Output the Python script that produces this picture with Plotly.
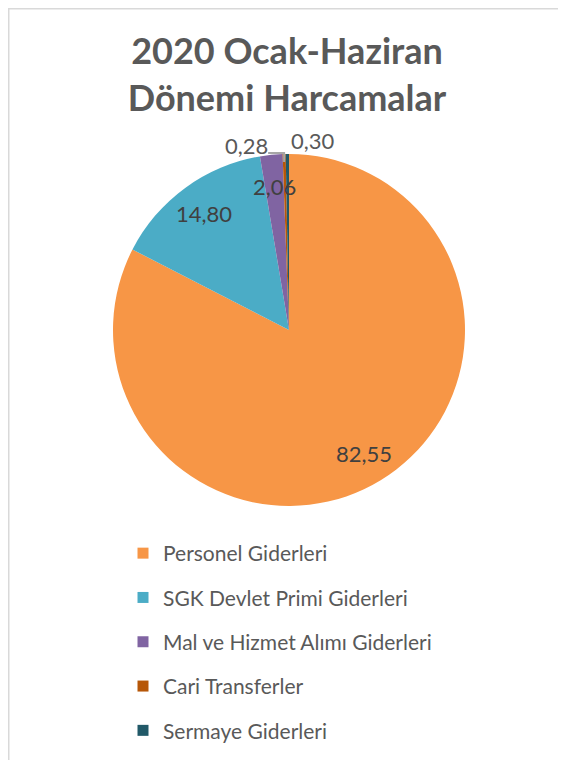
import math
import plotly.graph_objects as go

labels = ['Personel Giderleri', 'SGK Devlet Primi Giderleri', 'Mal ve Hizmet Alımı Giderleri',
          'Cari Transferler', 'Sermaye Giderleri']
values = [82.55, 14.80, 2.06, 0.28, 0.30]
colors = ['#F79646', '#4BACC6', '#8064A2', '#B65708', '#215968']

# the page body has an 8px margin, so the figure is a bit smaller than the window
W, H = 558, 752
cx, cy, r = 281, 322, 176

fig = go.Figure()
fig.add_trace(go.Pie(
    labels=labels, values=values, sort=False, direction='clockwise', rotation=0,
    marker=dict(colors=colors),
    textinfo='none',
    hoverinfo='label+value',
    showlegend=False,
    domain=dict(x=[(cx - r) / W, (cx + r) / W], y=[1 - (cy + r) / H, 1 - (cy - r) / H]),
))

def px(x, y):
    return x / W, 1 - y / H

# data labels placed like Excel does, from the slice angles
total = sum(values)
cum = 0
for i, v in enumerate(values):
    mid = (cum + v / 2) / total * 2 * math.pi
    cum += v
    txt = f'{v:.2f}'.replace('.', ',')
    if v > 1:
        rr = 0.82 * r
        x, y = px(cx + rr * math.sin(mid), cy - rr * math.cos(mid))
        fig.add_annotation(x=x, y=y, xref='paper', yref='paper', text=txt, showarrow=False,
                           xanchor='center', yanchor='middle',
                           font=dict(family='Lato', size=22, color='#404040'))
    else:
        ex, ey = cx + r * math.sin(mid), cy - r * math.cos(mid)
        left = i == 3
        dx, dy = (-38, -9) if left else (26, -14)
        x, y = px(ex, ey)
        fig.add_annotation(x=x, y=y, xref='paper', yref='paper', text=txt,
                           showarrow=True, arrowcolor='rgba(0,0,0,0)', ax=dx, ay=dy,
                           font=dict(family='Lato', size=22, color='#595959'))
        if left:
            # elbow leader line from the label down into the slice
            x0, y0 = px(ex - 16, ey - 1)
            x1, y1 = px(ex, ey + 8)
            fig.add_shape(type='path', xref='paper', yref='paper', layer='above',
                          path=f'M {x0:.5f},{y0:.5f} L {x:.5f},{y0:.5f} L {x:.5f},{y1:.5f}',
                          line=dict(color='#a6a6a6', width=2))

# legend entries, one group each so the spacing can be opened up
for i, (lab, col) in enumerate(zip(labels, colors)):
    fig.add_trace(go.Scatter(
        x=[None], y=[None], mode='markers', name=lab, legendgroup=str(i),
        marker=dict(symbol='square', size=11, color=col),
    ))

fig.add_shape(type='rect', xref='paper', yref='paper',
              x0=0.5 / W, x1=1.2, y0=-0.2, y1=1 - 0.5 / H,
              line=dict(color='#d9d9d9', width=2))

fig.update_layout(
    width=W, height=H,
    margin=dict(l=0, r=0, t=0, b=0),
    paper_bgcolor='white', plot_bgcolor='white',
    title=dict(text='<b>2020 Ocak-Haziran<br>Dönemi Harcamalar</b>',
               x=279 / W, xanchor='center', y=1 - 56 / H, yanchor='top',
               font=dict(family='Lato', size=36, color='#595959')),
    xaxis=dict(visible=False), yaxis=dict(visible=False),
    legend=dict(x=115 / W, xanchor='left', y=1 - 525 / H, yanchor='top',
                tracegroupgap=14, font=dict(family='Lato', size=21, color='#595959'),
                itemclick=False, itemdoubleclick=False),
)

fig.write_html('out.html')
